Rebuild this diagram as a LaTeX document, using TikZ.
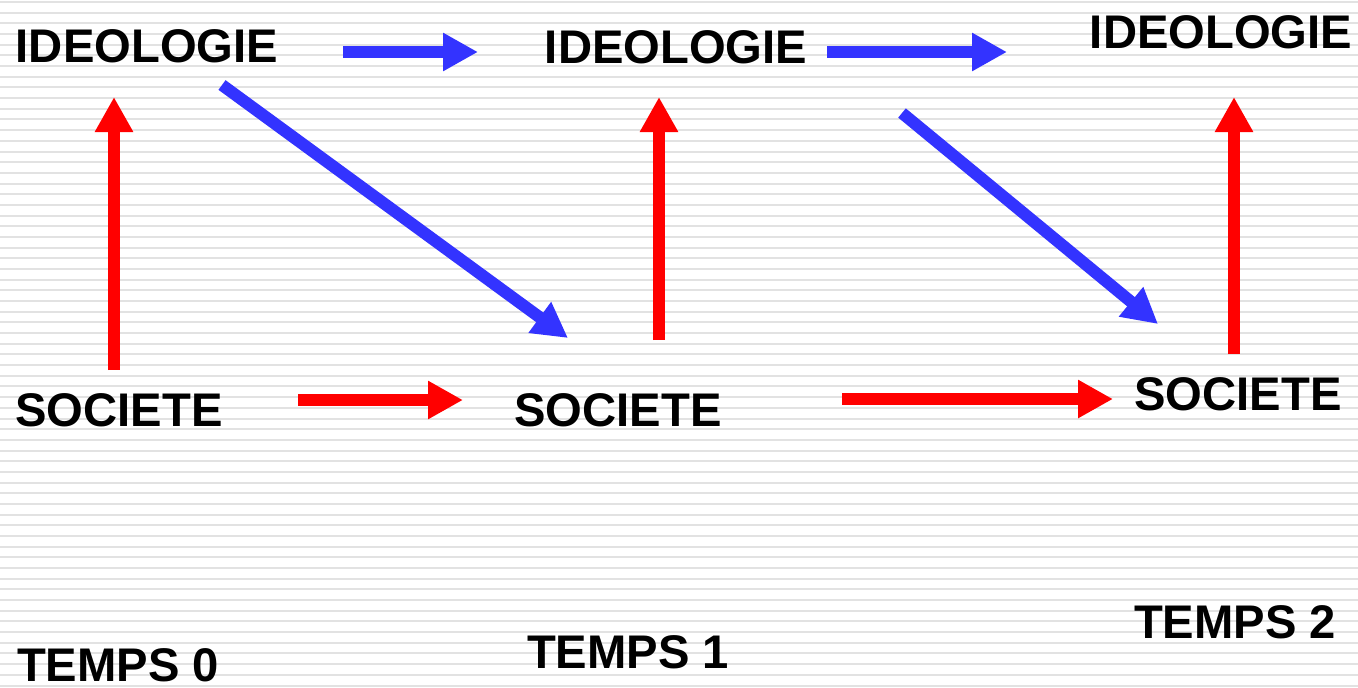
\documentclass[tikz,border=0pt]{standalone}
\usepackage{fontspec}
\setmainfont{Liberation Sans}
\usetikzlibrary{arrows.meta}
\definecolor{arrblue}{HTML}{3333FF}
\definecolor{arrred}{HTML}{FF0000}
\definecolor{stripe}{HTML}{E2E2E2}
\tikzset{
  lbl/.style={inner sep=0pt, font=\fontsize{23.6}{28}\selectfont\bfseries, text=black},
  bluearr/.style={draw=arrblue, line width=6pt, -{Triangle[length=17.5pt,width=18pt]}},
  redarr/.style={draw=arrred, line width=6pt, -{Triangle[length=17.5pt,width=18pt]}},
}
\begin{document}
\begin{tikzpicture}[x=0.5pt,y=-0.5pt]
\useasboundingbox (0,0) rectangle (1358,687);
\fill[white] (0,0) rectangle (1358,687);
\foreach \k in {0,...,64} {
  \draw[stripe, line width=1pt] (0,{2+10.68*\k}) -- (1358,{2+10.68*\k});
}
% labels
\node[lbl] (i0) at (147,46) {IDEOLOGIE};
\node[lbl] (i1) at (676,47) {IDEOLOGIE};
\node[lbl] (i2) at (1221,32) {IDEOLOGIE};
\node[lbl] (s0) at (119,410) {SOCIETE};
\node[lbl] (s1) at (618,410) {SOCIETE};
\node[lbl] (s2) at (1238,394) {SOCIETE};
\node[lbl] (t0) at (118,665) {TEMPS 0};
\node[lbl] (t1) at (628,652) {TEMPS 1};
\node[lbl] (t2) at (1235,622) {TEMPS 2};
% arrow endpoints
\coordinate (ru0a) at (114,370);  \coordinate (ru0b) at (114,97);
\coordinate (ru1a) at (659,340);  \coordinate (ru1b) at (659,97);
\coordinate (ru2a) at (1234,354); \coordinate (ru2b) at (1234,97);
\coordinate (rh1a) at (298,400);  \coordinate (rh1b) at (463,400);
\coordinate (rh2a) at (842,399);  \coordinate (rh2b) at (1113,399);
\coordinate (bh1a) at (343,52);   \coordinate (bh1b) at (478,52);
\coordinate (bh2a) at (827,52);   \coordinate (bh2b) at (1007,52);
\coordinate (bd1a) at (222,85);   \coordinate (bd1b) at (568,338);
\coordinate (bd2a) at (902,113);  \coordinate (bd2b) at (1158,324);
% arrows
\draw[redarr] (ru0a) -- (ru0b);
\draw[redarr] (ru1a) -- (ru1b);
\draw[redarr] (ru2a) -- (ru2b);
\draw[redarr] (rh1a) -- (rh1b);
\draw[redarr] (rh2a) -- (rh2b);
\draw[bluearr] (bh1a) -- (bh1b);
\draw[bluearr] (bh2a) -- (bh2b);
\draw[bluearr] (bd1a) -- (bd1b);
\draw[bluearr] (bd2a) -- (bd2b);
\end{tikzpicture}
\end{document}
